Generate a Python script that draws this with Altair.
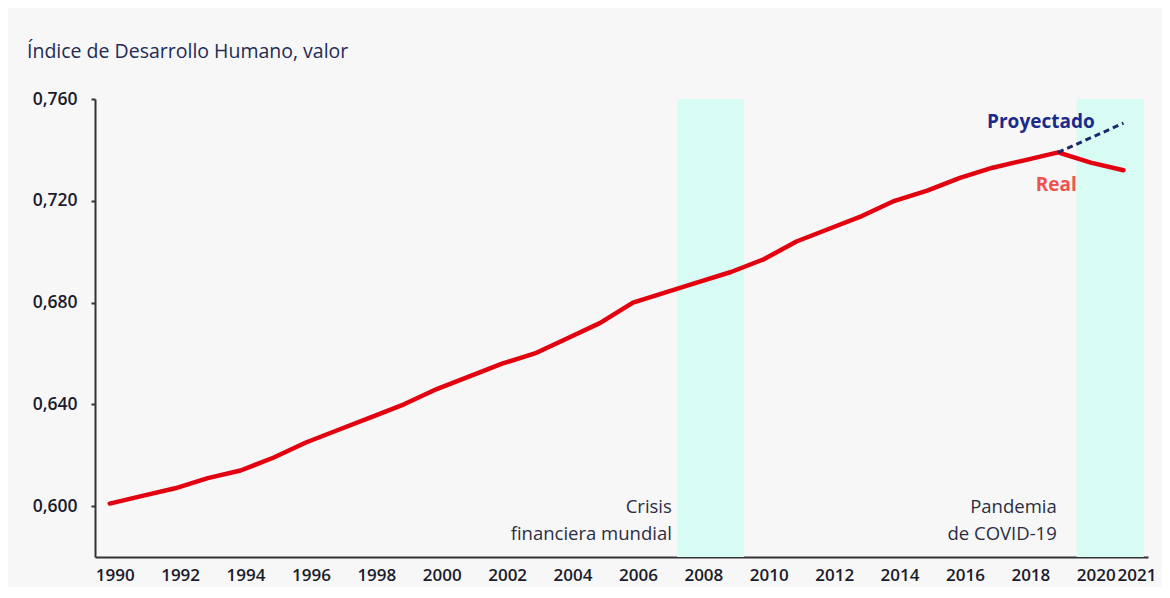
import altair as alt
import pandas as pd

# ---- data ----
years = list(range(1990, 2022))
hdi_real = [0.601, 0.604, 0.607, 0.611, 0.614, 0.619, 0.625, 0.630, 0.635, 0.640,
            0.646, 0.651, 0.656, 0.660, 0.666, 0.672, 0.680, 0.684, 0.688, 0.692,
            0.697, 0.704, 0.709, 0.714, 0.720, 0.724, 0.729, 0.733, 0.736, 0.739,
            0.735, 0.732]
proj_years = [2019, 2021]
proj_vals = [0.739, 0.7505]

band_names = ["Crisis financiera mundial", "Pandemia de COVID-19"]
band_start = [2007.35, 2019.57]
band_end = [2009.40, 2021.62]

x_ticks = [1990, 1992, 1994, 1996, 1998, 2000, 2002, 2004, 2006, 2008,
           2010, 2012, 2014, 2016, 2018, 2020, 2021]
y_ticks = [0.600, 0.640, 0.680, 0.720, 0.760]

period_labels = ["Crisis\nfinanciera mundial", "Pandemia\nde COVID-19"]
period_label_x = [2007.19, 2018.96]
period_label_y = [0.5996, 0.5996]

series_labels = ["Proyectado", "Real"]
series_label_x = [2020.12, 2019.57]
series_label_y = [0.7508, 0.7261]

title_text = "Índice de Desarrollo Humano, valor"

FONT = "Open Sans"
W, H = 1053, 458

real_df = pd.DataFrame({"year": years, "hdi": hdi_real})
proj_df = pd.DataFrame({"year": proj_years, "hdi": proj_vals})
band_df = pd.DataFrame({"name": band_names, "start": band_start, "end": band_end})
plab_df = pd.DataFrame({"label": period_labels, "year": period_label_x, "hdi": period_label_y})
slab_df = pd.DataFrame({"label": series_labels, "year": series_label_x, "hdi": series_label_y})

xscale = alt.Scale(domain=[1989.55, 2021.75], nice=False, zero=False)
yscale = alt.Scale(domain=[0.58, 0.76], nice=False, zero=False)

x_axis = alt.Axis(
    values=x_ticks, format="d", title=None, grid=False,
    ticks=False, domain=True, domainColor="#333333", domainWidth=2,
    labelFont=FONT, labelFontSize=17, labelFontWeight=600, labelColor="#1b1b2b",
    labelPadding=10, labelAngle=0,
    labelOffset={"condition": {"test": "datum.value == 2021", "value": 13}, "value": 5},
    labelOverlap=False, labelFlush=False,
)
y_axis = alt.Axis(
    values=y_ticks, title=None, grid=False,
    labelExpr="replace(format(datum.value, '.3f'), '.', ',')",
    ticks=True, tickSize=4, tickColor="#333333", tickWidth=2,
    domain=True, domainColor="#333333", domainWidth=2,
    labelFont=FONT, labelFontSize=17.5, labelFontWeight=600, labelColor="#1b1b2b",
    labelPadding=14,
)

bands = alt.Chart(band_df).mark_rect(color="#d8fbf3").encode(
    x=alt.X("start:Q", scale=xscale, axis=x_axis),
    x2="end:Q",
    y=alt.value(0),
    y2=alt.value(H),
)

real_line = alt.Chart(real_df).mark_line(
    color="#e3000f", strokeWidth=4.5, strokeCap="round", strokeJoin="round"
).encode(
    x=alt.X("year:Q", scale=xscale, axis=x_axis),
    y=alt.Y("hdi:Q", scale=yscale, axis=y_axis),
)

proj_line = alt.Chart(proj_df).mark_line(
    color="#1b2a6b", strokeWidth=3, strokeDash=[6, 4]
).encode(
    x=alt.X("year:Q", scale=xscale),
    y=alt.Y("hdi:Q", scale=yscale),
)

period_text = alt.Chart(plab_df).mark_text(
    align="right", baseline="middle", font=FONT, fontSize=18.5, color="#2b2d42",
    lineBreak="\n", lineHeight=27,
).encode(
    x=alt.X("year:Q", scale=xscale),
    y=alt.Y("hdi:Q", scale=yscale),
    text="label:N",
)

series_text = alt.Chart(slab_df).mark_text(
    align="right", baseline="middle", font=FONT, fontSize=19, fontWeight="bold",
).encode(
    x=alt.X("year:Q", scale=xscale),
    y=alt.Y("hdi:Q", scale=yscale),
    text="label:N",
    color=alt.Color("label:N", scale=alt.Scale(domain=series_labels,
                                                range=["#1c2a8a", "#f0524f"]), legend=None),
)

chart = alt.layer(bands, real_line, proj_line, period_text, series_text).properties(
    width=W, height=H,
    title=alt.TitleParams(
        title_text, anchor="start", frame="group", dx=-68, offset=28,
        font=FONT, fontSize=19.5, fontWeight="normal", color="#232b55",
    ),
    autosize=alt.AutoSizeParams(type="none"),
    padding={"left": 87, "top": 91, "right": 14, "bottom": 30},
    background="#f7f7f7",
).configure_view(stroke=None)

chart.save("out.html", embed_options={"renderer": "svg", "actions": False})
